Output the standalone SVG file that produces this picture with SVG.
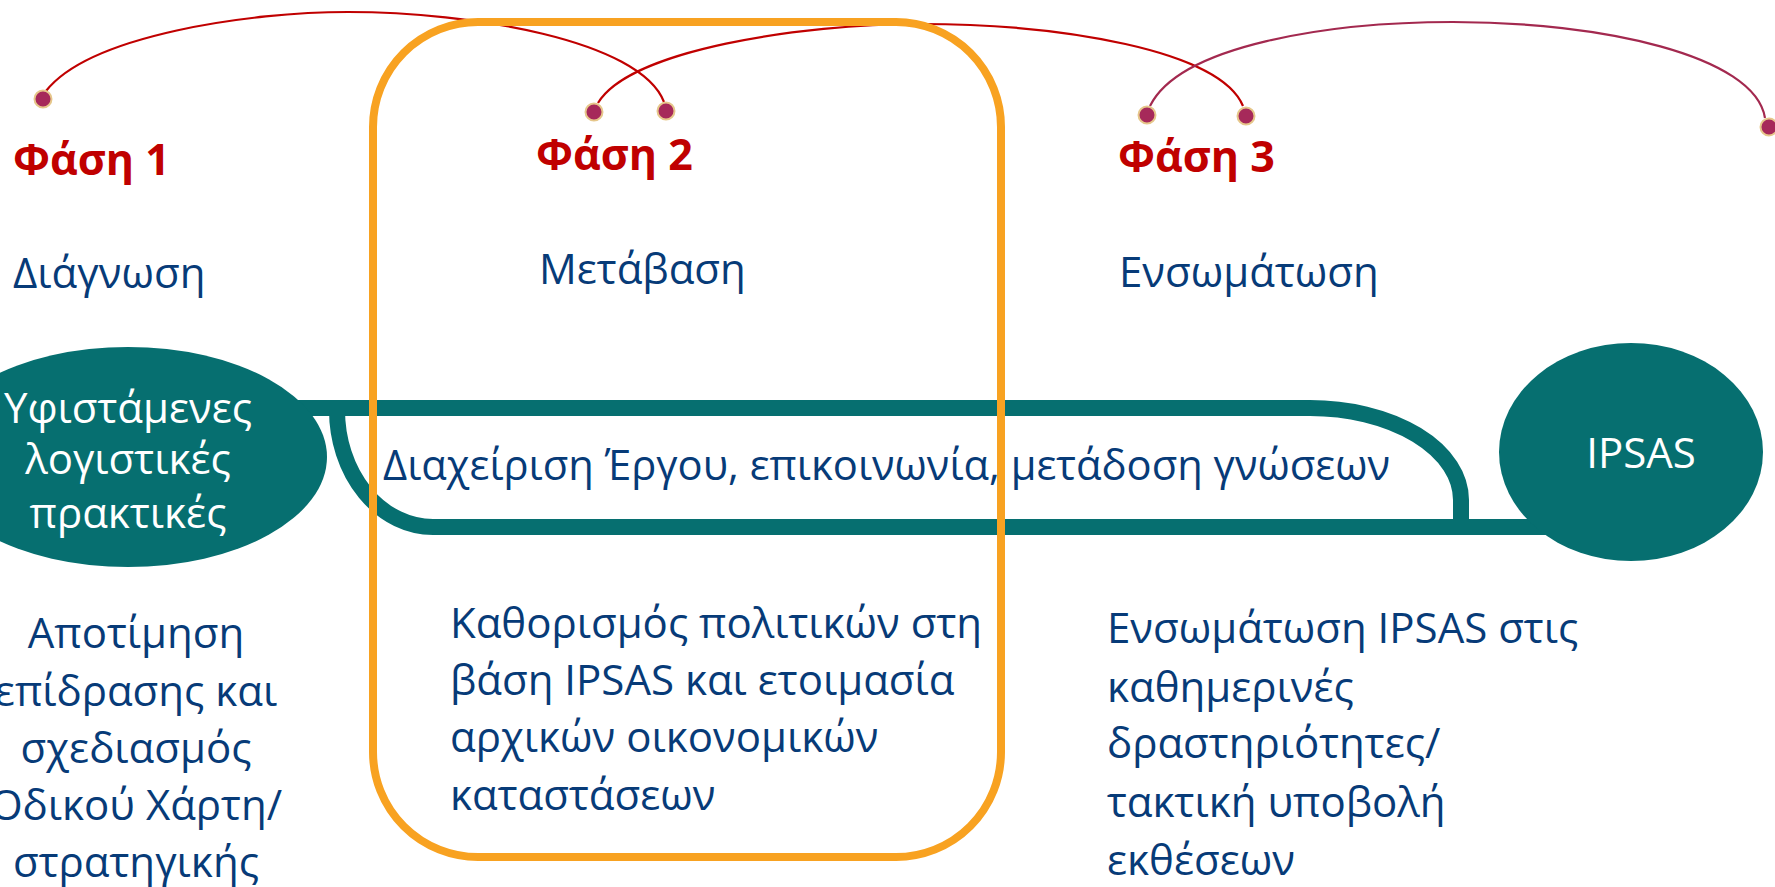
<svg xmlns="http://www.w3.org/2000/svg" width="1775" height="887" viewBox="0 0 1775 887">
<style>
.ph{font-family:"Open Sans","Noto Sans",sans-serif;font-weight:bold;font-size:43px;fill:#C00000}
.t{font-family:"Open Sans","Noto Sans",sans-serif;font-size:42px;fill:#073B78}
.w{font-family:"Open Sans","Noto Sans",sans-serif;font-size:42px;fill:#FFFFFF}
.arc{fill:none;stroke:#C00000;stroke-width:2.2}
.arc3{fill:none;stroke:#A3294F;stroke-width:2.2}
.dot{fill:#A6295A;stroke:#E6C78B;stroke-width:2}
.band{fill:none;stroke:#066F70;stroke-width:16}
.teal{fill:#066F70}
</style>
<rect width="1775" height="887" fill="#FFFFFF"/>
<g id="connectors">
<path class="arc" d="M46,91 C90,35 250,12 348,12 C470,12 640,40 664,102"/>
<path class="arc" d="M598,103 C630,50 800,24 920,24 C1060,24 1220,50 1243,106"/>
<path class="arc3" d="M1150,106 C1180,45 1330,22 1453,22 C1600,22 1755,55 1765,118"/>
<path class="band" d="M290,408 L1310,408 A151,92 0 0 1 1461,500 L1461,528"/>
<path class="band" d="M337,410 A96,117 0 0 0 433,527 L1560,527"/>
</g>
<g id="phase-box">
<rect x="373" y="22" width="628" height="835" rx="105" ry="105" fill="none" stroke="#F8A221" stroke-width="8"/>
</g>
<g id="dots">
<circle class="dot" cx="43" cy="99" r="8.5"/>
<circle class="dot" cx="594" cy="112" r="8.5"/>
<circle class="dot" cx="666" cy="111" r="8.5"/>
<circle class="dot" cx="1147" cy="115" r="8.5"/>
<circle class="dot" cx="1246" cy="116" r="8.5"/>
<circle class="dot" cx="1769" cy="127" r="8.5"/>
</g>
<g id="phase1">
<text class="ph" x="13" y="175">Φάση 1</text>
<text class="t" x="13" y="288">Διάγνωση</text>
<text class="t" text-anchor="middle"><tspan x="136" y="648">Αποτίμηση</tspan><tspan x="136" y="706">επίδρασης και</tspan><tspan x="136" y="763">σχεδιασμός</tspan><tspan x="136" y="820">Οδικού Χάρτη/</tspan><tspan x="136" y="877">στρατηγικής</tspan></text>
</g>
<g id="phase2">
<text class="ph" x="536" y="170">Φάση 2</text>
<text class="t" x="539" y="284">Μετάβαση</text>
<text class="t"><tspan x="450" y="638">Καθορισμός πολιτικών στη</tspan><tspan x="450" y="695">βάση IPSAS και ετοιμασία</tspan><tspan x="450" y="752">αρχικών οικονομικών</tspan><tspan x="450" y="810">καταστάσεων</tspan></text>
</g>
<g id="phase3">
<text class="ph" x="1118" y="172">Φάση 3</text>
<text class="t" x="1119" y="287">Ενσωμάτωση</text>
<text class="t"><tspan x="1107" y="643">Ενσωμάτωση IPSAS στις</tspan><tspan x="1107" y="702">καθημερινές</tspan><tspan x="1107" y="758">δραστηριότητες/</tspan><tspan x="1107" y="817">τακτική υποβολή</tspan><tspan x="1107" y="875">εκθέσεων</tspan></text>
</g>
<g id="node-current">
<ellipse class="teal" cx="128" cy="457" rx="199" ry="110"/>
<text class="w" text-anchor="middle"><tspan x="128" y="423">Υφιστάμενες</tspan><tspan x="128" y="474">λογιστικές</tspan><tspan x="128" y="528">πρακτικές</tspan></text>
</g>
<g id="node-band-label">
<text class="t" x="383" y="480" textLength="1007" lengthAdjust="spacingAndGlyphs">Διαχείριση Έργου, επικοινωνία, μετάδοση γνώσεων</text>
</g>
<g id="node-ipsas">
<ellipse class="teal" cx="1631" cy="452" rx="132" ry="109"/>
<text class="w" x="1641" y="468" text-anchor="middle">IPSAS</text>
</g>
</svg>
